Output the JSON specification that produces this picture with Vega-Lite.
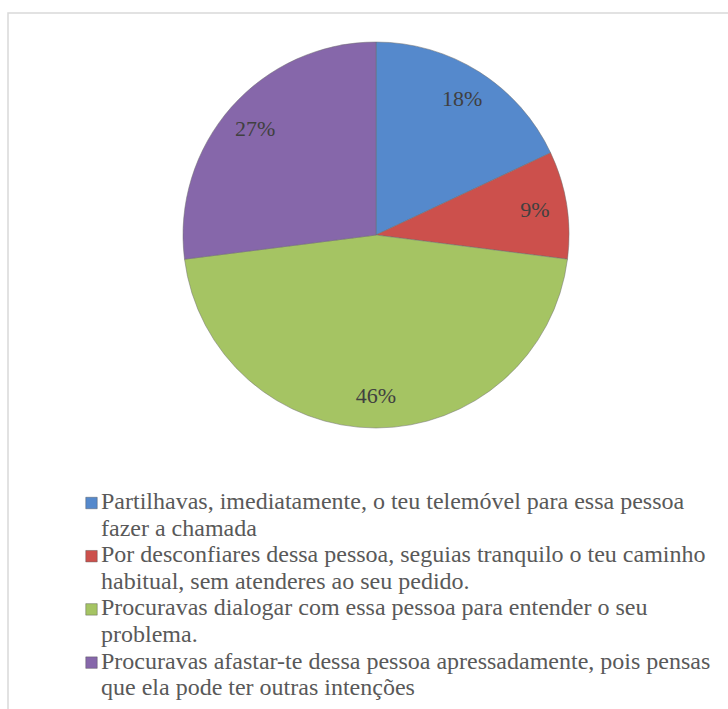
{
  "$schema": "https://vega.github.io/schema/vega-lite/v6.json",
  "width": 740,
  "height": 716,
  "autosize": {"type": "none"},
  "padding": {"left": 8, "top": 13, "right": -20, "bottom": -20},
  "background": "white",
  "view": {"stroke": "#d9d9d9", "strokeWidth": 1.5},
  "config": {
    "view": {"stroke": "#d9d9d9", "strokeWidth": 1.5},
    "font": "Liberation Serif"
  },
  "data": {
    "values": [
      {"order": 1, "resposta": "Partilhavas, imediatamente, o teu telemóvel para essa pessoa fazer a chamada", "pct": 0.18},
      {"order": 2, "resposta": "Por desconfiares dessa pessoa, seguias tranquilo o teu caminho habitual, sem atenderes ao seu pedido.", "pct": 0.09},
      {"order": 3, "resposta": "Procuravas dialogar com essa pessoa para entender o seu problema.", "pct": 0.46},
      {"order": 4, "resposta": "Procuravas afastar-te dessa pessoa apressadamente, pois pensas que ela pode ter outras intenções", "pct": 0.27}
    ]
  },
  "layer": [
    {
      "mark": {"type": "arc", "outerRadius": 193, "x": 368, "y": 222, "stroke": "#6f6f6f", "strokeWidth": 0.5},
      "encoding": {
        "theta": {"field": "pct", "type": "quantitative", "stack": true},
        "order": {"field": "order", "type": "quantitative"},
        "color": {
          "field": "resposta",
          "type": "nominal",
          "sort": {"field": "order"},
          "scale": {"range": ["#5589CC", "#CC504C", "#A5C463", "#8667AA"]},
          "legend": null
        }
      }
    },
    {
      "mark": {"type": "text", "radius": 161, "x": 368, "y": 222, "font": "Liberation Serif", "fontSize": 22, "fill": "#404040", "baseline": "middle", "align": "center"},
      "encoding": {
        "theta": {"field": "pct", "type": "quantitative", "stack": true},
        "order": {"field": "order", "type": "quantitative"},
        "text": {"field": "pct", "type": "quantitative", "format": ".0%"},
        "detail": {"field": "resposta"}
      }
    },
    {
      "mark": {"type": "square", "size": 132, "x": 83.5, "filled": true, "opacity": 1, "stroke": "#4a4a4a", "strokeWidth": 0.4},
      "encoding": {
        "y": {"field": "order", "type": "quantitative", "scale": {"domain": [1, 4], "range": [490, 649.6]}, "axis": null},
        "color": {
          "field": "resposta",
          "type": "nominal",
          "sort": {"field": "order"},
          "legend": null
        }
      }
    },
    {
      "transform": [
        {"calculate": "substring(datum.resposta, 0, lastindexof(substring(datum.resposta, 0, 63), ' ')) + '\\n' + substring(datum.resposta, lastindexof(substring(datum.resposta, 0, 63), ' ') + 1)", "as": "rotulo"}
      ],
      "mark": {"type": "text", "x": 93, "dy": 6, "align": "left", "baseline": "alphabetic", "font": "Liberation Serif", "fontSize": 24, "lineHeight": 26.6, "lineBreak": "\n", "fill": "#595959", "limit": 700},
      "encoding": {
        "y": {"field": "order", "type": "quantitative"},
        "text": {"field": "rotulo", "type": "nominal"}
      }
    }
  ]
}
